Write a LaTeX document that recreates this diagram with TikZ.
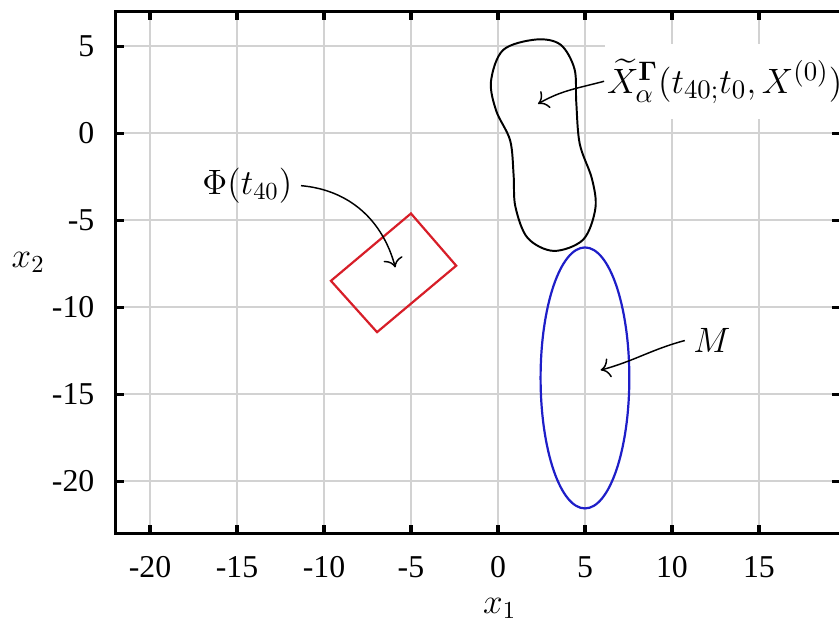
\documentclass[tikz,border=0pt]{standalone}
\usepackage{amsmath,amssymb}
\usepackage{fontspec}
\setmainfont{Liberation Serif}
\usetikzlibrary{arrows.meta}

\definecolor{boxred}{RGB}{215,30,40}
\definecolor{ellblue}{RGB}{30,30,200}

\tikzset{
  gridline/.style={gray!35,line width=0.8pt},
  axisline/.style={line width=1.3pt},
  lbl/.style={font=\fontsize{14}{16}\selectfont},
  pointer/.style={-{To[scale=1.3]},line width=0.6pt}
}

\begin{document}
\begin{tikzpicture}[x=0.25cm,y=0.25cm,font=\fontsize{13}{15}\selectfont]
  \useasboundingbox (-28.62,-28.65) rectangle (19.6,7.67);

  % grid
  \foreach \i in {-20,-15,...,15}
    \draw[gridline] (\i,-23) -- (\i,7);
  \foreach \j in {-20,-15,...,5}
    \draw[gridline] (-22,\j) -- (19.7,\j);

  % frame and ticks
  \draw[axisline] (19.7,7) -- (-22,7) -- (-22,-23) -- (19.7,-23);
  \foreach \i in {-20,-15,...,15} {
    \draw[axisline] (\i,-23) -- (\i,-22.5);
    \draw[axisline] (\i,7) -- (\i,6.5);
    \node[anchor=north] at (\i,-23.8) {\i};
  }
  \foreach \j in {-20,-15,...,5} {
    \draw[axisline] (-22,\j) -- (-21.5,\j);
    \draw[axisline] (19.7,\j) -- (19.2,\j);
    \node[anchor=east] at (-22.7,\j) {\j};
  }
  \node[lbl] (xa) at (0.1,-27.3) {$x_1$};
  \node[lbl] (xb) at (-27.0,-7.4) {$x_2$};

  % sets
  \draw[boxred,line width=0.9pt] (-5,-4.6) -- (-2.4,-7.6) -- (-6.95,-11.42) -- (-9.6,-8.47) -- cycle;
  \draw[ellblue,line width=0.9pt] (5,-14.05) ellipse (2.55 and 7.5);
  \draw[line width=0.8pt] plot[smooth cycle,tension=0.55] coordinates {
    (2.2,5.4) (0.3,4.8) (-0.4,3.0) (-0.1,1.3) (0.7,-0.4) (0.9,-2.4)
    (1.0,-4.2) (1.7,-6.0) (3.2,-6.75) (4.9,-6.1) (5.6,-4.3) (5.4,-2.6)
    (4.7,-0.6) (4.5,1.8) (4.4,3.7) (3.6,5.1)};

  % labels
  \node[lbl] (phi) at (-14.4,-3.0) {$\Phi(t_{40})$};
  \coordinate (phitip) at (-5.9,-7.7);
  \draw[pointer] (phi.east) to[out=-5,in=105] (phitip);

  \node[fill=white,anchor=west,inner xsep=1pt,inner ysep=6pt,font=\fontsize{15}{17}\selectfont] (xset) at (6.1,3.0)
    {$\widetilde{X}^{\boldsymbol{\Gamma}}_{\alpha}(t_{40;}t_0,X^{(0)})$};
  \coordinate (xtip) at (2.3,1.7);
  \draw[pointer] (xset.west) to[out=195,in=30] (xtip);

  \node[lbl] (mset) at (12.3,-11.9) {$M$};
  \coordinate (mtip) at (5.9,-13.6);
  \draw[pointer] (mset.west) to[out=195,in=15] (mtip);
\end{tikzpicture}
\end{document}
